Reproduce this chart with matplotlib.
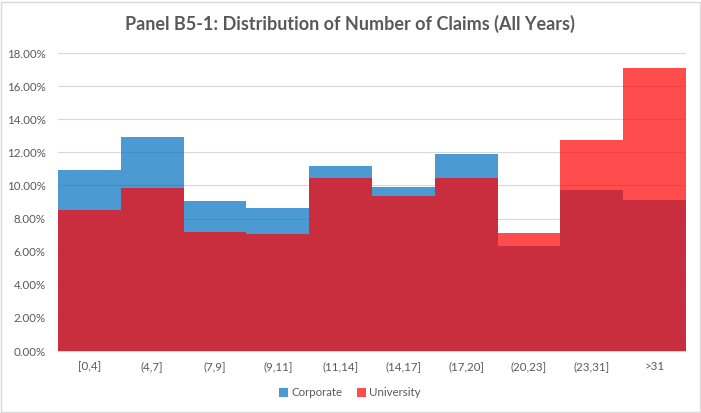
import matplotlib
matplotlib.use("Agg")
import matplotlib.pyplot as plt
from matplotlib.patches import Rectangle, Patch
from matplotlib.ticker import FuncFormatter
import numpy as np

categories = ["[0,4]", "(4,7]", "(7,9]", "(9,11]", "(11,14]", "(14,17]",
              "(17,20]", "(20,23]", "(23,31]", ">31"]
corporate = [10.93, 12.94, 9.06, 8.62, 11.17, 9.92, 11.90, 6.34, 9.74, 9.14]
university = [8.51, 9.86, 7.20, 7.07, 10.43, 9.38, 10.43, 7.10, 12.72, 17.09]

plt.rcParams['font.family'] = ['Lato', 'DejaVu Sans']
txt = '#595959'

fig = plt.figure(figsize=(7.01, 4.13), dpi=100)
ax = fig.add_axes([58/701, 1-351/413, (686-58)/701, (351-53)/413])

x = np.arange(len(categories))
ax.bar(x, corporate, width=1.0, color='#0070C0', alpha=0.7, linewidth=0, zorder=2)
ax.bar(x, university, width=1.0, color='#FF0000', alpha=0.7, linewidth=0, zorder=3)

ax.set_xlim(-0.5, len(categories)-0.5)
ax.set_ylim(0, 18)
ax.set_yticks(np.arange(0, 18.01, 2))
ax.yaxis.set_major_formatter(FuncFormatter(lambda v, p: f"{v:.2f}%"))
ax.set_xticks(x)
ax.set_xticklabels(categories)
ax.grid(axis='y', color='#D9D9D9', linewidth=0.8, zorder=0)
ax.set_axisbelow(True)
for s in ['top', 'right', 'left']:
    ax.spines[s].set_visible(False)
ax.spines['bottom'].set_color('#D9D9D9')
ax.tick_params(axis='both', length=0, colors=txt, labelsize=8.3)
ax.tick_params(axis='y', pad=9)
ax.tick_params(axis='x', pad=7.5)

fig.text(350/701, 1-24/413, "Panel B5-1: Distribution of Number of Claims (All Years)",
         ha='center', va='center', fontsize=13, fontweight='bold', color=txt)

handles = [Patch(facecolor='#4B9BD3', edgecolor='none'),
           Patch(facecolor='#FF4D4D', edgecolor='none')]
fig.legend(handles, ["Corporate", "University"], loc='center',
           bbox_to_anchor=(350/701, 1-393/413), ncol=2, frameon=False,
           fontsize=8.3, handlelength=0.8, handleheight=0.8, handletextpad=0.3,
           columnspacing=1.2, labelcolor=txt)

fig.patches.append(Rectangle((0.002, 0.003), 0.996, 0.993, transform=fig.transFigure,
                             fill=False, edgecolor='#D9D9D9', linewidth=1))

fig.savefig("out.png", dpi=100)
